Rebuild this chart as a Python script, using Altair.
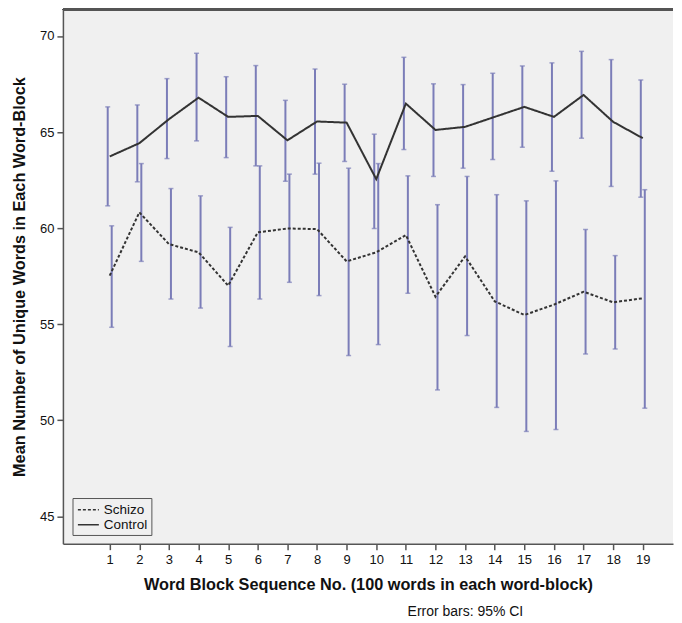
import altair as alt
import pandas as pd

blocks = list(range(1, 20))
control_mean = [63.73, 64.42, 65.67, 66.79, 65.79, 65.84, 64.57, 65.55, 65.49, 62.55,
                66.48, 65.11, 65.27, 65.79, 66.31, 65.79, 66.93, 65.53, 64.68]
control_hi = [66.31, 66.41, 67.78, 69.10, 67.88, 68.46, 66.65, 68.28, 67.49, 64.89,
              68.89, 67.51, 67.47, 68.06, 68.44, 68.60, 69.20, 68.77, 67.71]
control_lo = [61.16, 62.41, 63.62, 64.54, 63.67, 63.24, 62.44, 62.81, 63.47, 59.98,
              64.09, 62.69, 63.12, 63.57, 64.21, 62.96, 64.68, 62.17, 61.61]
schizo_mean = [57.53, 60.82, 59.17, 58.74, 57.01, 59.78, 59.98, 59.95, 58.27, 58.74,
               59.64, 56.43, 58.53, 56.19, 55.48, 56.02, 56.69, 56.14, 56.35]
schizo_hi = [60.12, 63.36, 62.06, 61.68, 60.04, 63.24, 62.81, 63.38, 63.12, 63.36,
             62.72, 61.22, 62.69, 61.74, 61.42, 62.46, 59.93, 58.57, 62.00]
schizo_lo = [54.84, 58.27, 56.31, 55.84, 53.84, 56.31, 57.18, 56.49, 53.37, 53.94,
             56.61, 51.58, 54.41, 50.67, 49.42, 49.52, 53.45, 53.71, 50.63]
groups = ["Schizo", "Control"]
y_ticks = [45, 50, 55, 60, 65, 70]

rows = []
for i, b in enumerate(blocks):
    rows.append({"block": b, "Group": "Schizo", "mean": schizo_mean[i], "lo": schizo_lo[i], "hi": schizo_hi[i]})
    rows.append({"block": b, "Group": "Control", "mean": control_mean[i], "lo": control_lo[i], "hi": control_hi[i]})
df = pd.DataFrame(rows)

FONT = "Liberation Sans"
W, H = 611, 535
BAR = "#7b7db8"

xs = alt.Scale(domain=[-0.58, 20.02], nice=False, zero=False)
ys = alt.Scale(domain=[43.58, 71.38], nice=False, zero=False)

x_axis = alt.Axis(
    values=blocks, format="d", title="Word Block Sequence No. (100 words in each word-block)",
    grid=False, tickSize=6, labelPadding=4, titlePadding=10, labelFontSize=13,
    labelOverlap=False, titleFontSize=16.3, titleFontWeight="bold")
y_axis = alt.Axis(
    values=y_ticks, title="Mean Number of Unique Words in Each Word-Block",
    grid=False, tickSize=6, labelPadding=3, titlePadding=12.5, labelFontSize=13,
    titleFontSize=16.3, titleFontWeight="bold")

base = alt.Chart(df)

def bars(group, off):
    d = base.transform_filter(alt.datum.Group == group)
    bx = alt.X("block:Q", scale=xs, axis=x_axis)
    r = d.mark_rule(color=BAR, strokeWidth=2, xOffset=off).encode(
        x=bx, y=alt.Y("lo:Q", scale=ys, axis=y_axis), y2="hi:Q")
    c1 = d.mark_tick(color=BAR, orient="horizontal", size=5, thickness=1.5, xOffset=off).encode(
        x=bx, y=alt.Y("lo:Q", scale=ys, axis=y_axis))
    c2 = d.mark_tick(color=BAR, orient="horizontal", size=5, thickness=1.5, xOffset=off).encode(
        x=bx, y=alt.Y("hi:Q", scale=ys, axis=y_axis))
    return r + c1 + c2

lines = base.mark_line(color="#333333", strokeWidth=2).encode(
    x=alt.X("block:Q", scale=xs, axis=x_axis),
    y=alt.Y("mean:Q", scale=ys, axis=y_axis),
    strokeDash=alt.StrokeDash("Group:N", scale=alt.Scale(domain=groups, range=[[3, 2], [1, 0]]),
                              legend=alt.Legend(title=None, orient="none", legendX=9.6, legendY=489.3,
                                                strokeColor="#555555", fillColor="#f0f0f0",
                                                padding=3.7, symbolType="M-1.5,0H1.5", symbolSize=196,
                                                symbolOffset=4.2,
                                                symbolStrokeWidth=1.5, symbolStrokeColor="#333333",
                                                labelFontSize=13.5, labelColor="#111111",
                                                rowPadding=-0.7, labelOffset=7.5)),
    detail="Group:N")

top = alt.Chart(df).mark_rule(color="#555555", strokeWidth=1.5).encode(
    x=alt.value(0), x2=alt.value(W), y=alt.value(0))

chart = (bars("Control", -2) + bars("Schizo", 2) + lines + top).properties(
    width=W, height=H, padding={"left": 3, "top": 0, "right": 0, "bottom": 0},
    title=alt.TitleParams("Error bars: 95% CI", orient="bottom", anchor="middle", frame="group",
                          dx=97.6, fontSize=14, fontWeight="normal",
                          font="Liberation Sans Narrow, Liberation Sans", offset=12, color="#111111")
).configure_view(fill="#f0f0f0", stroke=None).configure_axis(
    domainColor="#555555", domainWidth=1.5, tickColor="#555555", tickWidth=1.5,
    labelFont=FONT, titleFont=FONT, labelColor="#111111", titleColor="#111111"
).configure_legend(labelFont=FONT)

chart.save("out.html", embed_options={"renderer": "svg", "actions": False})
